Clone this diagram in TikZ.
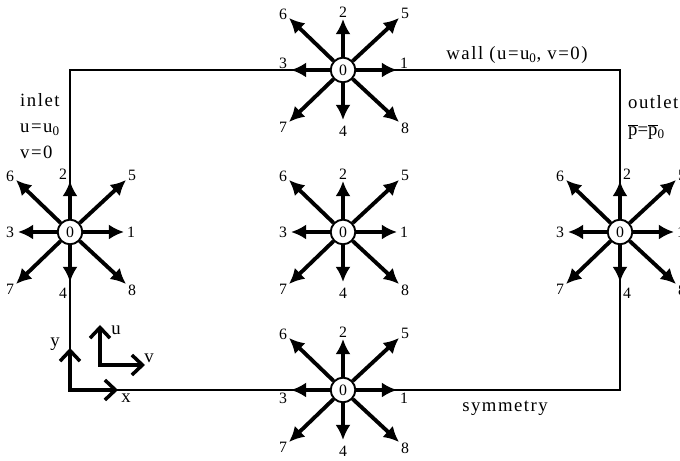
\documentclass[tikz,border=0pt]{standalone}
\usepackage{fontspec}
\setmainfont{Liberation Serif}
\newfontfamily\spaced[LetterSpace=8]{Liberation Serif}
\usetikzlibrary{arrows.meta,calc}
\newcommand\ovl[1]{$\overline{\hbox{#1}}$}
\tikzset{
 site/.style={circle,draw,line width=1.6pt,fill=white,inner sep=0pt,minimum size=21pt,font=\fontsize{13.5}{14}\selectfont},
 vel/.style={line width=3.3pt,-{Latex[length=13pt,width=13pt]}},
 num/.style={font=\fontsize{13.5}{14}\selectfont,inner sep=0pt},
 txt/.style={font=\fontsize{16}{18}\selectfont\spaced,inner sep=0pt},
 ax/.style={line width=3pt,-{Straight Barb[length=9pt,width=17pt,line width=3pt]}}
}
\begin{document}
\begin{tikzpicture}[x=.03cm,y=.03cm]
\useasboundingbox(0,0)rectangle(680,461);
% domain boundary
\coordinate(sw)at(70,71);\coordinate(se)at(620,71);\coordinate(ne)at(620,391);\coordinate(nw)at(70,391);
\draw[line width=1.5pt](sw)--(se)--(ne)--(nw)--cycle;
% lattice sites with their eight velocities
\foreach \n/\px/\py/\hs/\vs in {t/343/391/0/7,m/343/229/0/0,b/343/71/0/-8,l/70/229/-7/0,r/620/229/7/0}{
 \node[site](\n)at(\px,\py){0};
 \foreach \d/\dx/\dy/\lx/\ly/\fh/\fv in {1/54/0/61/0/0/1,2/0/51/0/58/1/0,3/-52/0/-60/0/0/1,4/0/-50/0/-61/1/0,5/56/52/62/57/0/0,6/-54/52/-60/56/0/0,7/-54/-52/-60/-57/0/0,8/56/-52/62/-58/0/0}{
  \coordinate(\n\d)at($(\n)+(\dx,\dy)$);
  \draw[vel](\n)--(\n\d);
  \node[num](\n-l\d)at($(\n)+(\lx+\fh*\hs,\ly+\fv*\vs)$){\d};
 }
}
% axes
\coordinate(o)at(70,71);\coordinate(xt)at(118,71);\coordinate(yt)at(70,113);
\draw[ax,line cap=rect](o)--(xt);\draw[ax,line cap=rect](o)--(yt);
\node[txt](xl)at(126,63){x};\node[txt](yl)at(55,117){y};
\coordinate(o2)at(100,96);\coordinate(ut)at(100,136);\coordinate(vt)at(145,96);
\draw[ax,line cap=rect](o2)--(ut);\draw[ax,line cap=rect](o2)--(vt);
\node[txt](ul)at(116,131){u};\node[txt](vl)at(149,103){v};
% boundary conditions
\node[txt,anchor=west](inl)at(20,361){inlet};
\node[txt,anchor=west](inu)at(20,331){u=u\textsubscript{0}};
\node[txt,anchor=west](inv)at(20,309){v=0};
\node[txt,anchor=west](outl)at(628,359){outlet};
\node[txt,anchor=west](outp)at(628,329){\ovl{p}=\ovl{p}\textsubscript{0}};
\node[txt](wall)at(517,406){wall (u=u\textsubscript{0}, v=0)};
\node[txt](sym)at(505,53){symmetry};
\end{tikzpicture}
\end{document}
